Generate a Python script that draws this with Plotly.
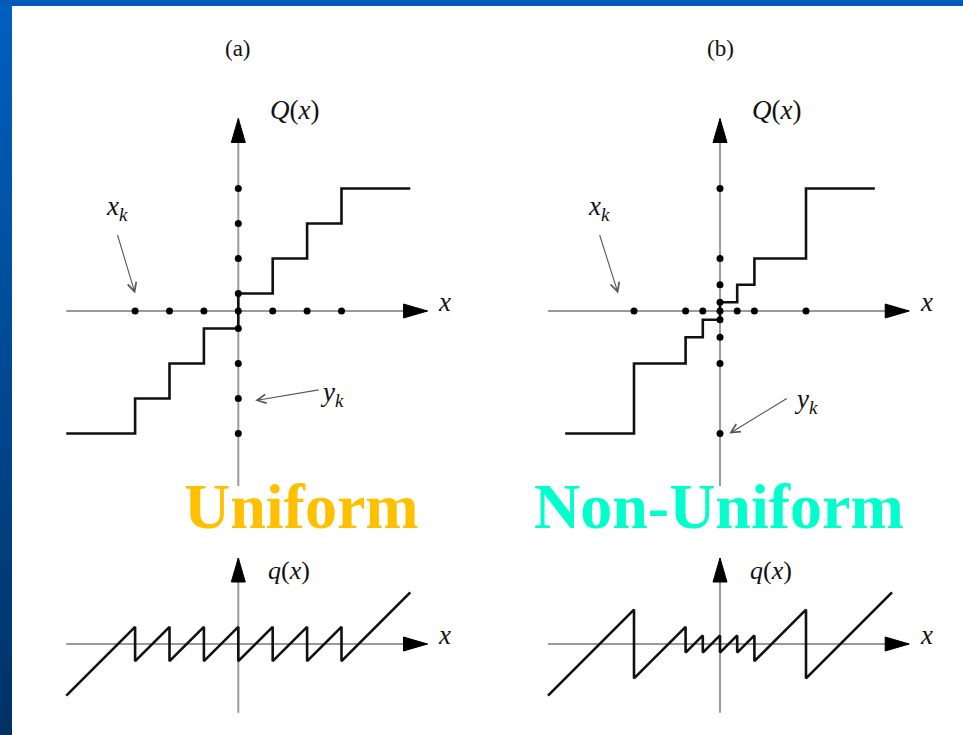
import plotly.graph_objects as go

W, H = 963, 735

# ---- quantizer definitions (units of the input / output axes) ----
uniform_thresholds = [-3, -2, -1, 0, 1, 2, 3]
uniform_levels = [-3.5, -2.5, -1.5, -0.5, 0.5, 1.5, 2.5, 3.5]
uniform_span = [-5, 5]

nonuniform_thresholds = [-2.5, -1, -0.5, 0, 0.5, 1, 2.5]
nonuniform_levels = [-3.5, -1.5, -0.75, -0.25, 0.25, 0.75, 1.5, 3.5]
nonuniform_span = [-4.5, 4.5]

error_span = [-5, 5]

panel_titles = ["(a)", "(b)"]
scheme_names = ["Uniform", "Non-Uniform"]
scheme_colors = ["#FFC000", "#00FFCC"]

# ---- page geometry (pixels) ----
SX = 34.4          # px per input unit
SY_TOP = 35.0      # px per output unit, staircase panels
SY_BOT = 34.4      # px per unit, error panels
OX = [238.3, 720.0]
OY_TOP, OY_BOT = 311.0, 644.0
COL_PX = [(15, 478), (490, 958)]
TOP_PX = (88, 497)
BOT_PX = (545, 730)

AXIS_GRAY = "#9a9a9a"
INK = "#111111"


def xframe(px0, px1, ox, s):
    return dict(domain=[px0 / W, px1 / W], range=[(px0 - ox) / s, (px1 - ox) / s])


def yframe(py0, py1, oy, s):
    return dict(domain=[1 - py1 / H, 1 - py0 / H], range=[(oy - py1) / s, (oy - py0) / s])


def paper(px, py):
    return px / W, 1 - py / H


def staircase(th, lv, span):
    xs = [span[0]] + list(th) + [span[1]]
    ys = list(lv) + [lv[-1]]
    return xs, ys


def sawtooth(th, lv, span):
    edges = [span[0]] + list(th) + [span[1]]
    xs, ys = [], []
    for i, lvl in enumerate(lv):
        a, b = edges[i], edges[i + 1]
        xs += [a, b]
        ys += [a - lvl, b - lvl]
    return xs, ys


fig = go.Figure()

hidden = dict(visible=False, showgrid=False, zeroline=False, fixedrange=True)
axes_ids = [("x", "y"), ("x2", "y2"), ("x3", "y3"), ("x4", "y4")]
layout_axes = {}
for i, (xa, ya) in enumerate(axes_ids):
    col = i % 2
    top = i < 2
    xk = "xaxis" if xa == "x" else "xaxis" + xa[1:]
    yk = "yaxis" if ya == "y" else "yaxis" + ya[1:]
    layout_axes[xk] = dict(hidden, anchor=ya, **xframe(*COL_PX[col], OX[col], SX))
    if top:
        layout_axes[yk] = dict(hidden, anchor=xa, **yframe(*TOP_PX, OY_TOP, SY_TOP))
    else:
        layout_axes[yk] = dict(hidden, anchor=xa, **yframe(*BOT_PX, OY_BOT, SY_BOT))


def add_axes(xa, ya, xlim, ylim, sy):
    # axis lines
    fig.add_trace(go.Scatter(x=[xlim[0], xlim[1]], y=[0, 0], mode="lines",
                             line=dict(color=AXIS_GRAY, width=2), xaxis=xa, yaxis=ya,
                             hoverinfo="skip", showlegend=False))
    fig.add_trace(go.Scatter(x=[0, 0], y=[ylim[0], ylim[1]], mode="lines",
                             line=dict(color=AXIS_GRAY, width=2), xaxis=xa, yaxis=ya,
                             hoverinfo="skip", showlegend=False))
    # arrow heads
    L, h = 24.0, 7.0
    tx, ty = xlim[1], ylim[1]
    fig.add_trace(go.Scatter(x=[tx, tx - L / SX, tx - L / SX, tx], y=[0, h / sy, -h / sy, 0],
                             fill="toself", fillcolor="black", mode="lines",
                             line=dict(color="black", width=1), xaxis=xa, yaxis=ya,
                             hoverinfo="skip", showlegend=False))
    fig.add_trace(go.Scatter(x=[0, h / SX, -h / SX, 0], y=[ty, ty - L / sy, ty - L / sy, ty],
                             fill="toself", fillcolor="black", mode="lines",
                             line=dict(color="black", width=1), xaxis=xa, yaxis=ya,
                             hoverinfo="skip", showlegend=False))


schemes = [
    (uniform_thresholds, uniform_levels, uniform_span),
    (nonuniform_thresholds, nonuniform_levels, nonuniform_span),
]

for col, (th, lv, span) in enumerate(schemes):
    xa, ya = axes_ids[col]
    add_axes(xa, ya, (-5, 5.5), (-5, 5.5), SY_TOP)
    sx_, sy_ = staircase(th, lv, span)
    fig.add_trace(go.Scatter(x=sx_, y=sy_, mode="lines", line=dict(color=INK, width=2.6, shape="hv"),
                             xaxis=xa, yaxis=ya, hoverinfo="skip", showlegend=False))
    fig.add_trace(go.Scatter(x=list(th), y=[0] * len(th), mode="markers",
                             marker=dict(color="black", size=7), xaxis=xa, yaxis=ya,
                             hoverinfo="skip", showlegend=False))
    fig.add_trace(go.Scatter(x=[0] * len(lv), y=list(lv), mode="markers",
                             marker=dict(color="black", size=7), xaxis=xa, yaxis=ya,
                             hoverinfo="skip", showlegend=False))

    xb, yb = axes_ids[col + 2]
    add_axes(xb, yb, (-5, 5.5), (-2, 2.5), SY_BOT)
    ex, ey = sawtooth(th, lv, error_span)
    fig.add_trace(go.Scatter(x=ex, y=ey, mode="lines", line=dict(color=INK, width=2.6),
                             xaxis=xb, yaxis=yb, hoverinfo="skip", showlegend=False))

# ---- blue slide frame ----
shapes = []
n = 60
top_c = (0x00, 0x60, 0xC0)
bot_c = (0x00, 0x32, 0x66)
for i in range(n):
    t = i / (n - 1)
    c = tuple(round(a + (b - a) * t) for a, b in zip(top_c, bot_c))
    y0 = 1 - (i + 1) / n
    y1 = 1 - i / n
    shapes.append(dict(type="rect", xref="paper", yref="paper", x0=0, x1=12 / W,
                       y0=y0 - 0.001, y1=y1, fillcolor="rgb(%d,%d,%d)" % c,
                       line=dict(width=0), layer="above"))
shapes.append(dict(type="rect", xref="paper", yref="paper", x0=0, x1=1, y0=1 - 6 / H, y1=1,
                   fillcolor="#005CB8", line=dict(width=0), layer="above"))

# ---- text ----
ann = []
serif = "Liberation Serif, Times New Roman, serif"


def text(px, py, s, size, color=INK, family=serif):
    x, y = paper(px, py)
    ann.append(dict(x=x, y=y, xref="paper", yref="paper", text=s, showarrow=False,
                    xanchor="center", yanchor="middle",
                    font=dict(family=family, size=size, color=color)))


for col in range(2):
    ox = OX[col]
    text(ox, 49, panel_titles[col], 23)
    text(ox + 56, 110, "<i>Q</i>(<i>x</i>)", 27)
    text(ox + 206, 302, "<i>x</i>", 27)
    text(ox + 206, 635, "<i>x</i>", 27)
    text(ox + 51, 570, "<i>q</i>(<i>x</i>)", 26)

text(117, 208, "<i>x</i><sub><i>k</i></sub>", 27)
text(599, 208, "<i>x</i><sub><i>k</i></sub>", 27)
text(332, 394, "<i>y</i><sub><i>k</i></sub>", 27)
text(806, 401, "<i>y</i><sub><i>k</i></sub>", 27)

text(301.5, 506, "<b>%s</b>" % scheme_names[0], 64, color=scheme_colors[0])
text(718.5, 506, "<b>%s</b>" % scheme_names[1], 64, color=scheme_colors[1])

# pointer arrows to a threshold and an output level
arrow_style = dict(showarrow=True, arrowhead=5, arrowsize=1.6, arrowwidth=1.1,
                   arrowcolor="#555555", text="", standoff=0)
ann.append(dict(arrow_style, x=-3.0, y=0.5, xref="x", yref="y", ax=-18, ay=-60))
ann.append(dict(arrow_style, x=0.49, y=-2.56, xref="x", yref="y", ax=65, ay=-11))
ann.append(dict(arrow_style, x=-2.96, y=0.5, xref="x2", yref="y2", ax=-19, ay=-60))
ann.append(dict(arrow_style, x=0.27, y=-3.5, xref="x2", yref="y2", ax=59, ay=-36))

fig.update_layout(
    width=W, height=H, margin=dict(l=0, r=0, t=0, b=0),
    paper_bgcolor="#FFFFFF", plot_bgcolor="rgba(0,0,0,0)",
    shapes=shapes, annotations=ann, showlegend=False,
    **layout_axes,
)

fig.write_html("out.html", config=dict(displayModeBar=False))
